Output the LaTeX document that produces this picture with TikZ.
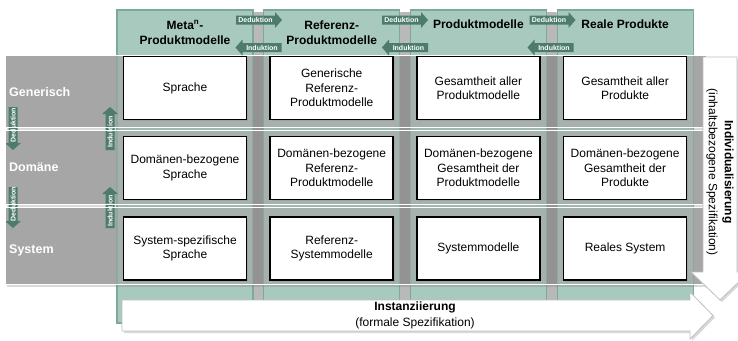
\documentclass[tikz,border=0pt]{standalone}
\usepackage{fontspec}
\setmainfont{Liberation Sans}
\usetikzlibrary{shadows}
\definecolor{colgreen}{HTML}{A8C9BD}
\definecolor{colborder}{HTML}{7DA999}
\definecolor{arrowteal}{HTML}{4D7C6B}
\definecolor{rowgray}{HTML}{A6A6A6}
\definecolor{bigborder}{HTML}{BFBFBF}
\tikzset{
  column/.style={fill=colgreen, draw=colborder, line width=1.2pt},
  rowband/.style={fill=rowgray, drop shadow={opacity=0.3, shadow xshift=2pt, shadow yshift=-2.5pt}},
  rowline/.style={draw=white, line width=1pt},
  cellbox/.style={draw=black, line width=1.6pt, fill=white, minimum width=123pt, minimum height=63pt,
    align=center, font=\fontsize{12}{14.5}\selectfont, inner sep=0pt,
    drop shadow={opacity=0.25, shadow xshift=1.5pt, shadow yshift=-1.5pt}},
  headtext/.style={align=center, font=\fontsize{12}{15}\selectfont\bfseries, inner sep=0pt},
  rowlabel/.style={anchor=west, text=white, font=\fontsize{12.5}{15}\selectfont\bfseries, inner sep=0pt},
  tagtext/.style={text=white, font=\fontsize{7}{8}\selectfont\bfseries, inner sep=0pt},
  bigarrow/.style={fill=white, draw=bigborder, line width=0.8pt,
    drop shadow={opacity=0.3, shadow xshift=2pt, shadow yshift=-2pt}},
  bigtext/.style={align=center, font=\fontsize{12}{16}\selectfont, inner sep=0pt},
  gapshade/.style={left color=gray!85, middle color=gray!40, right color=gray!85},
  gaplight/.style={left color=gray!55, middle color=gray!12, right color=gray!55},
  pics/arrowR/.style 2 args={code={
    \fill[arrowteal] (-#1/2,-4.5) -- (#1/2-7,-4.5) -- (#1/2-7,-8) -- (#1/2,0) -- (#1/2-7,8) -- (#1/2-7,4.5) -- (-#1/2,4.5) -- cycle;
    \node[tagtext] (-t) at (-3.5,0) {#2};
  }},
  pics/arrowL/.style 2 args={code={
    \fill[arrowteal] (#1/2,-4.5) -- (-#1/2+7,-4.5) -- (-#1/2+7,-8) -- (-#1/2,0) -- (-#1/2+7,8) -- (-#1/2+7,4.5) -- (#1/2,4.5) -- cycle;
    \node[tagtext] (-t) at (3.5,0) {#2};
  }}
}
\begin{document}
\begin{tikzpicture}[x=1pt,y=-1pt]
\useasboundingbox (0,0) rectangle (738,340);

% gap strips (light) behind columns
\foreach \g in {253.6,400.3,547.0}{
  \shade[gaplight] (\g,12) rectangle (\g+9.6,323);
}
% columns
\foreach \c in {185,331.7,478.4,625.1}{
  \path[column] (\c-68,10) rectangle (\c+68,323);
}
% rows
\path[rowband] (5,55) rectangle (706,127);
\path[rowband] (5,130.5) rectangle (706,204);
\path[rowband] (5,207.5) rectangle (706,284);
% column overlays on rows
\foreach \c in {185,331.7,478.4,625.1}{
  \fill[colgreen, opacity=0.3] (\c-68,55) rectangle (\c+68,284);
  \draw[colborder, opacity=0.6, line width=1.2pt] (\c-68,55) -- (\c-68,284) (\c+68,55) -- (\c+68,284);
}
% gap strips (dark) over rows
\foreach \g in {253.6,400.3,547.0}{
  \shade[gapshade] (\g,55) rectangle (\g+9.6,284);
}

% left arrows
\pic[rotate=90, transform shape] (ldA) at (13,128.5) {arrowL={43}{Deduktion}};
\pic[rotate=90, transform shape] (liA) at (110,128.5) {arrowR={43}{Induktion}};
\pic[rotate=90, transform shape] (ldB) at (13,207.5) {arrowL={41}{Deduktion}};
\pic[rotate=90, transform shape] (liB) at (110,207.5) {arrowR={41}{Induktion}};

% row outlines
\path[rowline] (5,55) rectangle (706,127);
\path[rowline] (5,130.5) rectangle (706,204);
\path[rowline] (5,207.5) rectangle (706,284);

% row labels
\node[rowlabel] (lgen) at (9,92) {Generisch};
\node[rowlabel] (ldom) at (9,167) {Domäne};
\node[rowlabel] (lsys) at (9,250) {System};

% cells
\node[cellbox] (c11) at (185,88) {Sprache};
\node[cellbox] (c12) at (331.7,88) {Generische\\Referenz-\\Produktmodelle};
\node[cellbox] (c13) at (478.4,88) {Gesamtheit aller\\Produktmodelle};
\node[cellbox] (c14) at (625.1,88) {Gesamtheit aller\\Produkte};
\node[cellbox] (c21) at (185,168) {Domänen-bezogene\\Sprache};
\node[cellbox] (c22) at (331.7,168) {Domänen-bezogene\\Referenz-\\Produktmodelle};
\node[cellbox] (c23) at (478.4,168) {Domänen-bezogene\\Gesamtheit der\\Produktmodelle};
\node[cellbox] (c24) at (625.1,168) {Domänen-bezogene\\Gesamtheit der\\Produkte};
\node[cellbox] (c31) at (185,248.5) {System-spezifische\\Sprache};
\node[cellbox] (c32) at (331.7,248.5) {Referenz-\\Systemmodelle};
\node[cellbox] (c33) at (478.4,248.5) {Systemmodelle};
\node[cellbox] (c34) at (625.1,248.5) {Reales System};

% headers
\node[headtext] (h1) at (185,32.5) {Meta\textsuperscript{n}-\\Produktmodelle};
\node[headtext] (h2) at (331.7,32.5) {Referenz-\\Produktmodelle};
\node[headtext] (h3) at (478.4,24.5) {Produktmodelle};
\node[headtext] (h4) at (625.1,24.5) {Reale Produkte};

% top arrows
\pic (tdA) at (259,20) {arrowR={46}{Deduktion}};
\pic (tiA) at (258.5,47.5) {arrowL={46}{Induktion}};
\pic (tdB) at (405,20) {arrowR={46}{Deduktion}};
\pic (tiB) at (405,47.5) {arrowL={46}{Induktion}};
\pic (tdC) at (552.5,20) {arrowR={46}{Deduktion}};
\pic (tiC) at (550.5,47.5) {arrowL={46}{Induktion}};

% big arrows
\path[bigarrow] (703,57) -- (737,57) -- (737,272) -- (749,272) -- (720,300) -- (691,272) -- (703,272) -- cycle;
\node[bigtext, rotate=-90] (indiv) at (720,172) {\textbf{Individualisierung}\\(inhaltsbezogene Spezifikation)};
\path[bigarrow] (122,300) -- (690,300) -- (690,292) -- (713,315.5) -- (690,339) -- (690,331) -- (122,331) -- cycle;
\node[bigtext] (inst) at (415,315.5) {\textbf{Instanziierung}\\(formale Spezifikation)};
\end{tikzpicture}
\end{document}
